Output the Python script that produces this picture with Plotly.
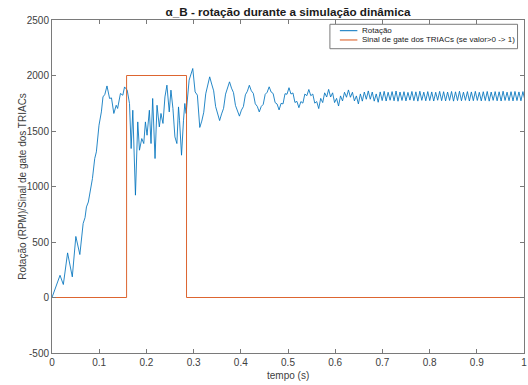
import plotly.graph_objects as go

# ---- Data ----
# Rotation: transient part (irregular samples), time in s, value in RPM
t_rot_a = [0.0, 0.008, 0.017, 0.024, 0.033, 0.043, 0.0505, 0.059, 0.066, 0.070,
           0.073, 0.077, 0.0815, 0.0857, 0.0905, 0.094, 0.0996, 0.1046, 0.108, 0.112,
           0.1165, 0.122, 0.126, 0.131, 0.136, 0.139, 0.145, 0.150, 0.1537, 0.1593,
           0.1642, 0.1677, 0.1712, 0.1768, 0.1817, 0.1853, 0.1902, 0.1944, 0.1979, 0.2014,
           0.2063, 0.2098, 0.2133, 0.2183, 0.2225, 0.2274, 0.2309, 0.2351, 0.2393, 0.2435,
           0.2484, 0.252, 0.2562, 0.2604, 0.2646, 0.268, 0.2702, 0.2744, 0.2786, 0.2814,
           0.2842, 0.287, 0.2905, 0.2982, 0.3032, 0.308]
rot_a = [0, 100, 200, 117, 402, 186, 550, 387, 667, 720,
         816, 860, 982, 1072, 1252, 1312, 1552, 1672, 1807, 1830,
         1906, 1793, 1798, 1658, 1732, 1703, 1838, 1822, 1897, 1868,
         1748, 1342, 1687, 922, 1582, 1327, 1432, 1387, 1582, 1462,
         1687, 1387, 1793, 1252, 1732, 1537, 1658, 1568, 1807, 1913,
         1672, 1868, 1703, 1447, 1387, 1717, 1597, 1282, 1597, 1748,
         1658, 1777, 1958, 2063, 1852, 1823]

# Rotation: settling part, sampled every 4.2 ms starting at 0.3131 s
t_rot_b0 = 0.3131
dt_rot_b = 0.0042
rot_b = [1532, 1589, 1669, 1835, 1915, 1988, 1923, 1862, 1720, 1659,
         1594, 1654, 1704, 1832, 1882, 1943, 1886, 1846, 1730, 1690,
         1634, 1688, 1720, 1826, 1858, 1912, 1862, 1839, 1745, 1722,
         1672, 1721, 1740, 1830, 1849, 1898, 1851, 1838, 1756, 1743,
         1690, 1749, 1744, 1836, 1831, 1890, 1833, 1843, 1757, 1767,
         1710, 1765, 1751, 1833, 1818, 1874, 1818, 1833, 1751, 1765,
         1702, 1794, 1756, 1844, 1806, 1875, 1806, 1844, 1756, 1794,
         1725, 1816, 1771, 1849, 1804, 1870, 1804, 1849, 1771, 1816,
         1744, 1834, 1769, 1851, 1786, 1861, 1786, 1851, 1769, 1834,
         1759,
         1852, 1774, 1857, 1770, 1849, 1777, 1855, 1772, 1860, 1768,
         1851, 1775, 1854, 1771, 1848, 1778, 1856, 1773, 1853, 1769,
         1858, 1776, 1850, 1772, 1855, 1774, 1852, 1770, 1849, 1777,
         1857, 1773, 1854, 1771, 1851, 1775, 1856, 1769, 1853, 1774,
         1858, 1772, 1850, 1776, 1855, 1770, 1852, 1773, 1857, 1775,
         1849, 1771, 1854, 1774, 1856, 1769, 1851, 1776, 1855, 1772,
         1853, 1770, 1858, 1775, 1850, 1773, 1854, 1771, 1856, 1774,
         1852, 1772, 1855, 1776]

# Gate signal of the TRIACs
t_gate = [0.0, 0.158, 0.158, 0.285, 0.285, 1.0]
gate = [0, 0, 2000, 2000, 0, 0]

x_ticks = [0, 0.1, 0.2, 0.3, 0.4, 0.5, 0.6, 0.7, 0.8, 0.9, 1]
x_tick_labels = ["0", "0.1", "0.2", "0.3", "0.4", "0.5", "0.6", "0.7", "0.8", "0.9", "1"]
y_ticks = [-500, 0, 500, 1000, 1500, 2000, 2500]
y_tick_labels = ["-500", "0", "500", "1000", "1500", "2000", "2500"]

title_text = "α_B - rotação durante a simulação dinâmica"
x_title = "tempo (s)"
y_title = "Rotação (RPM)/Sinal de gate dos TRIACs"
name_rot = "Rotação"
name_gate = "Sinal de gate dos TRIACs (se valor>0 -> 1)"

# ---- Build ----
t_rot = list(t_rot_a) + [t_rot_b0 + dt_rot_b * k for k in range(len(rot_b))]
rot = list(rot_a) + list(rot_b)

FONT = "Liberation Sans, Arial, Helvetica, sans-serif"
AX = "#7a7a7a"
TXT = "#404040"
BLUE = "#0072BD"
ORANGE = "#D95319"

fig = go.Figure()
fig.add_trace(go.Scatter(x=t_rot, y=rot, mode="lines", name=name_rot,
                         line=dict(color=BLUE, width=0.85)))
fig.add_trace(go.Scatter(x=t_gate, y=gate, mode="lines", name=name_gate,
                         line=dict(color=ORANGE, width=0.9)))

# MATLAB-style compact legend box (paper coordinates of the plot area)
lg_x0, lg_x1, lg_y0, lg_y1 = 0.5888, 0.9863, 0.9138, 0.9871
ln_x0, ln_x1, txt_x = 0.6099, 0.647, 0.652
row_y = [0.9679, 0.940]
shapes = [dict(type="rect", xref="paper", yref="paper", x0=lg_x0, x1=lg_x1,
               y0=lg_y0, y1=lg_y1, line=dict(color=AX, width=1),
               fillcolor="white", layer="above")]
annotations = []
for yy, col, nm in zip(row_y, [BLUE, ORANGE], [name_rot, name_gate]):
    shapes.append(dict(type="line", xref="paper", yref="paper", x0=ln_x0, x1=ln_x1,
                       y0=yy, y1=yy, line=dict(color=col, width=1), layer="above"))
    annotations.append(dict(text=nm, xref="paper", yref="paper", x=txt_x, y=yy,
                            xanchor="left", yanchor="middle", showarrow=False,
                            font=dict(family=FONT, size=8.0, color="#1a1a1a")))

# Axis titles
annotations.append(dict(text=y_title, xref="paper", yref="paper",
                        x=(22 - 52) / 475, y=0.5, textangle=-90,
                        xanchor="center", yanchor="middle", showarrow=False,
                        font=dict(family=FONT, size=10, color=TXT)))
annotations.append(dict(text=x_title, xref="paper", yref="paper",
                        x=0.5, y=(353 - 375) / 333,
                        xanchor="center", yanchor="middle", showarrow=False,
                        font=dict(family=FONT, size=10, color=TXT)))

fig.update_layout(
    width=528, height=385,
    margin=dict(l=52, r=1, t=20, b=32),
    paper_bgcolor="white", plot_bgcolor="white",
    font=dict(family=FONT, size=10, color=TXT),
    title=dict(text="<b>" + title_text + "</b>", x=0.5, xref="paper",
               y=1 - 12 / 385, yanchor="middle",
               font=dict(family=FONT, size=11.7, color="#1a1a1a")),
    showlegend=False,
    shapes=shapes,
    annotations=annotations,
)
fig.update_xaxes(range=[0, 1], tickvals=x_ticks, ticktext=x_tick_labels,
                 showgrid=False, zeroline=False, showline=True, linecolor=AX,
                 linewidth=1, mirror="ticks", ticks="inside", ticklen=4,
                 tickcolor=AX, tickfont=dict(size=10, color=TXT),
                 ticklabeloverflow="allow")
fig.update_yaxes(range=[-500, 2500], tickvals=y_ticks, ticktext=y_tick_labels,
                 showgrid=False, zeroline=False, showline=True, linecolor=AX,
                 linewidth=1, mirror="ticks", ticks="inside", ticklen=4,
                 tickcolor=AX, tickfont=dict(size=10, color=TXT))

fig.write_html("out.html",
               config={"displayModeBar": False},
               post_script="document.body.style.margin='0';document.body.style.overflow='hidden';")
